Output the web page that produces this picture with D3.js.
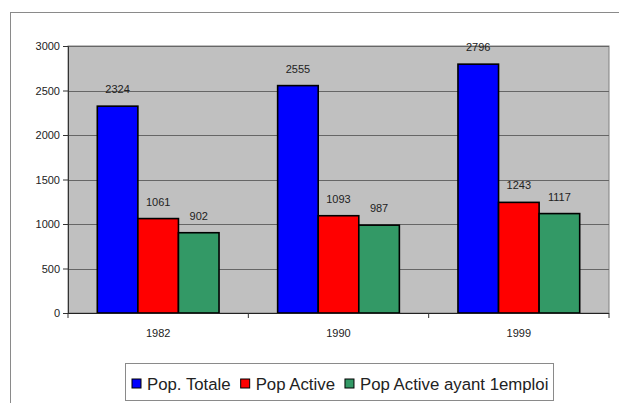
<!DOCTYPE html>
<html><head><meta charset="utf-8">
<script src="https://cdn.jsdelivr.net/npm/d3@7"></script>
<style>body{margin:0;background:#fff}svg{display:block}text{font-family:"Liberation Sans",Arial,sans-serif}</style>
</head><body><svg id="c" width="619" height="403"></svg>
<script>
const categories = ["1982", "1990", "1999"];
const seriesNames = ["Pop. Totale", "Pop Active", "Pop Active ayant 1emploi"];
const popTotale = [2324, 2555, 2796];
const popActive = [1061, 1093, 1243];
const popActiveEmploi = [902, 987, 1117];
const yTicks = [0, 500, 1000, 1500, 2000, 2500, 3000];
const colors = ["#0000ff", "#ff0000", "#339966"];

const seriesValues = [popTotale, popActive, popActiveEmploi];
const svg = d3.select("#c");
const m = {left: 68, right: 609, top: 46, bottom: 313};

svg.append("rect").attr("x", 10.5).attr("y", 12.5).attr("width", 700).attr("height", 500)
  .attr("fill", "#fff").attr("stroke", "#8a8a8a");

const x = d3.scaleBand().domain(categories).range([m.left, m.right]).paddingInner(0).paddingOuter(0);
const y = d3.scaleLinear().domain([0, 3000]).range([m.bottom, m.top]);
const groupW = x.bandwidth() * 0.675;
const x1 = d3.scaleBand().domain(seriesNames).range([0, groupW]);

svg.append("rect").attr("x", m.left).attr("y", m.top).attr("width", m.right - m.left)
  .attr("height", m.bottom - m.top).attr("fill", "#c0c0c0").attr("stroke", "#808080");

svg.append("g").selectAll("line").data(yTicks.filter(d => d > 0)).join("line")
  .attr("x1", m.left).attr("x2", m.right)
  .attr("y1", d => Math.round(y(d)) + 0.5).attr("y2", d => Math.round(y(d)) + 0.5)
  .attr("stroke", "#666").attr("stroke-width", 1.2);

const yAxis = svg.append("g").attr("transform", `translate(${m.left},0)`)
  .call(d3.axisLeft(y).tickValues(yTicks).tickSize(5).tickPadding(3).tickFormat(d3.format("d")));
yAxis.select(".domain").attr("stroke", "#333");
yAxis.selectAll(".tick line").attr("stroke", "#333");
yAxis.selectAll("text").attr("font-size", 11).attr("fill", "#222").attr("font-family", "Liberation Sans, Arial, sans-serif");

const groups = svg.append("g").selectAll("g").data(categories).join("g")
  .attr("transform", d => `translate(${x(d) + (x.bandwidth() - groupW) / 2},0)`);

groups.selectAll("rect").data((d, i) => seriesNames.map((s, j) => ({s, j, v: seriesValues[j][i]}))).join("rect")
  .attr("x", d => x1(d.s)).attr("width", x1.bandwidth())
  .attr("y", d => y(d.v)).attr("height", d => y(0) - y(d.v))
  .attr("fill", d => colors[d.j]).attr("stroke", "#000").attr("stroke-width", 1.6);

groups.selectAll("text.v").data((d, i) => seriesNames.map((s, j) => ({s, j, v: seriesValues[j][i]}))).join("text")
  .attr("class", "v")
  .attr("x", d => x1(d.s) + x1.bandwidth() / 2).attr("y", d => y(d.v) - 13)
  .attr("text-anchor", "middle").attr("font-size", 11).attr("fill", "#222")
  .text(d => d.v);

// x axis
svg.append("line").attr("x1", m.left).attr("x2", m.right).attr("y1", m.bottom + 0.5).attr("y2", m.bottom + 0.5)
  .attr("stroke", "#222").attr("stroke-width", 1.2);
const bounds = categories.map(c => x(c)).concat([m.right]);
svg.append("g").selectAll("line").data(bounds).join("line")
  .attr("x1", d => d).attr("x2", d => d).attr("y1", m.bottom).attr("y2", m.bottom + 5)
  .attr("stroke", "#333");
svg.append("g").selectAll("text").data(categories).join("text")
  .attr("x", d => x(d) + x.bandwidth() / 2).attr("y", 337)
  .attr("text-anchor", "middle").attr("font-size", 11).attr("fill", "#222").text(d => d);

// legend
const lg = svg.append("g");
lg.append("rect").attr("x", 125.5).attr("y", 363.5).attr("width", 428).attr("height", 37)
  .attr("fill", "#fff").attr("stroke", "#8a8a8a");
let lx = 132;
seriesNames.forEach((s, j) => {
  lg.append("rect").attr("x", lx).attr("y", 379).attr("width", 9).attr("height", 9)
    .attr("fill", colors[j]).attr("stroke", "#000").attr("stroke-width", 1);
  const t = lg.append("text").attr("x", lx + 15).attr("y", 390).attr("font-size", 16.8)
    .attr("fill", "#222").text(s);
  lx = lx + 15 + t.node().getComputedTextLength() + 10;
});
</script></body></html>
